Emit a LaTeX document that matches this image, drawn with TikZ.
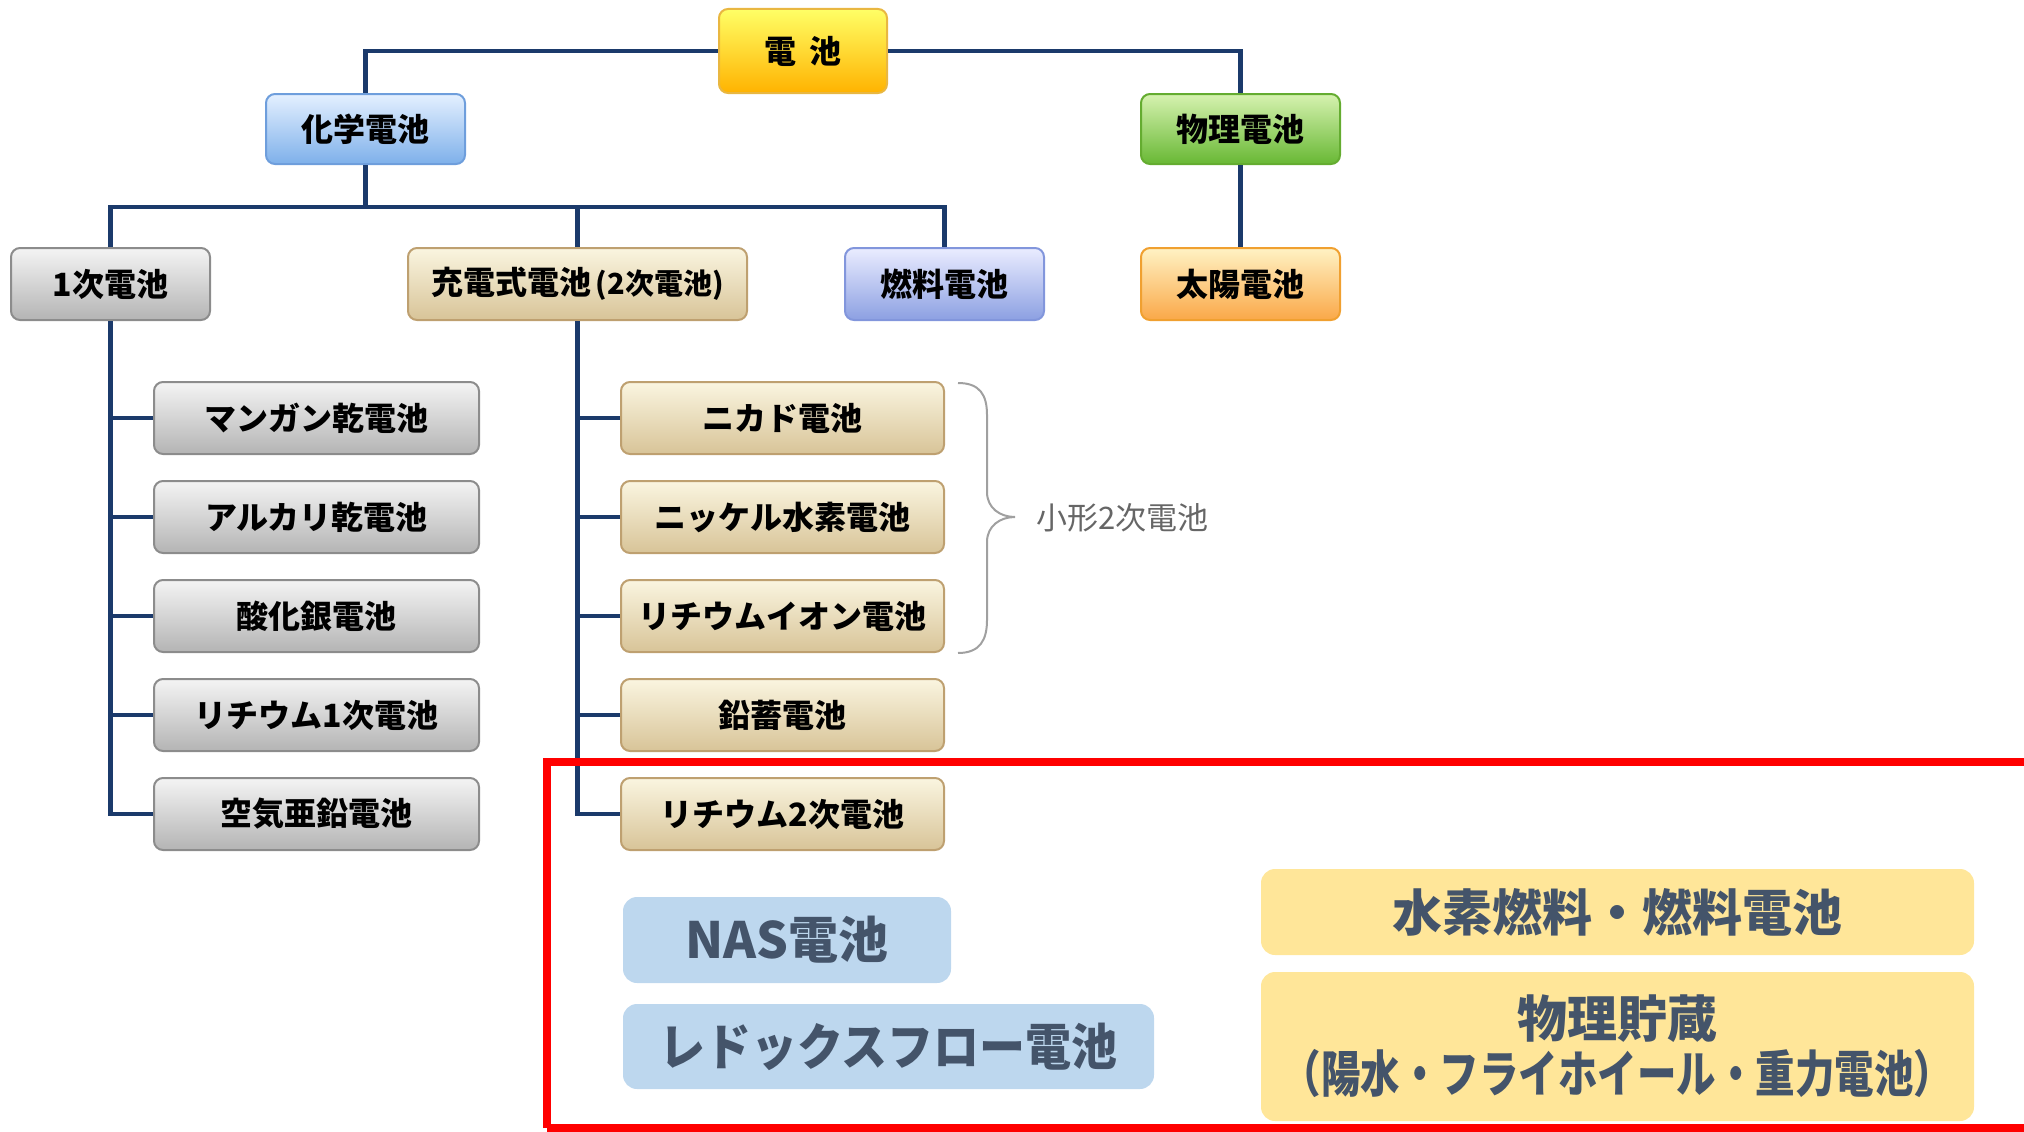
\documentclass[tikz,border=0pt]{standalone}
\usepackage{fontspec}
\newfontfamily\jp{Noto Sans CJK JP}
\definecolor{navy}{HTML}{1B3A6B}
\definecolor{slate}{HTML}{44546A}
\definecolor{paleblue}{HTML}{BDD7EE}
\definecolor{paleyellow}{HTML}{FFE699}
\definecolor{bracegray}{HTML}{A0A0A0}
\definecolor{labelgray}{HTML}{666666}
\tikzset{
  box/.style={draw, rounded corners=9pt, line width=2pt, inner sep=0pt,
    font=\jp\bfseries\fontsize{32}{36}\selectfont, text=black},
  yellowbox/.style={box, draw=yellow!40!orange!90!black!80, top color=yellow!60!white, middle color=yellow!70!orange!70, bottom color=orange!60!yellow},
  bluebox/.style={box, draw={rgb,255:red,110;green,158;blue,220}, top color={rgb,255:red,228;green,240;blue,255}, middle color={rgb,255:red,180;green,210;blue,245}, bottom color={rgb,255:red,126;green,176;blue,234}},
  lavbox/.style={box, draw={rgb,255:red,130;green,150;blue,220}, top color={rgb,255:red,234;green,236;blue,255}, middle color={rgb,255:red,196;green,204;blue,246}, bottom color={rgb,255:red,140;green,160;blue,226}},
  greenbox/.style={box, draw={rgb,255:red,100;green,172;blue,48}, top color={rgb,255:red,214;green,242;blue,176}, middle color={rgb,255:red,150;green,214;blue,96}, bottom color={rgb,255:red,104;green,184;blue,52}},
  orangebox/.style={box, draw={rgb,255:red,240;green,160;blue,48}, top color={rgb,255:red,255;green,242;blue,196}, middle color={rgb,255:red,255;green,212;blue,130}, bottom color={rgb,255:red,250;green,168;blue,72}},
  graybox/.style={box, draw={rgb,255:red,140;green,140;blue,140}, top color={rgb,255:red,244;green,244;blue,244}, middle color={rgb,255:red,218;green,218;blue,218}, bottom color={rgb,255:red,180;green,180;blue,180}},
  beigebox/.style={box, draw={rgb,255:red,190;green,160;blue,112}, top color={rgb,255:red,250;green,245;blue,224}, middle color={rgb,255:red,238;green,228;blue,196}, bottom color={rgb,255:red,216;green,196;blue,152}},
  topw/.style={minimum width=199pt, minimum height=70pt},
  midw/.style={minimum height=72pt},
  leafL/.style={graybox, minimum width=325pt, minimum height=72pt},
  leafR/.style={beigebox, minimum width=323pt, minimum height=72pt},
  flatbox/.style={rounded corners=14pt, inner sep=0pt,
    font=\jp\bfseries\fontsize{50}{55}\selectfont, text=slate, align=center},
  link/.style={draw=navy, line width=4.5pt},
}
\begin{document}
\begin{tikzpicture}[x=1pt,y=-1pt]
\useasboundingbox (0,0) rectangle (2024,1132);
% top level
\node[yellowbox, minimum width=168pt, minimum height=84pt] (den) at (803,51) {電\hspace{14pt}池};
\node[bluebox, topw] (kagaku) at (365.5,129) {化学電池};
\node[greenbox, topw] (butsuri) at (1240.5,129) {物理電池};
\node[graybox, midw, minimum width=199pt] (ichiji) at (110.5,284) {1次電池};
\node[beigebox, midw, minimum width=339pt] (juden) at (577.5,284) {充電式電池{\fontsize{29}{32}\selectfont\,(2次電池)}};
\node[lavbox, midw, minimum width=199pt] (nenryo) at (944.5,284) {燃料電池};
\node[orangebox, midw, minimum width=199pt] (taiyo) at (1240.5,284) {太陽電池};
% left leaves
\node[leafL] (L1) at (316.5,418) {マンガン乾電池};
\node[leafL] (L2) at (316.5,517) {アルカリ乾電池};
\node[leafL] (L3) at (316.5,616) {酸化銀電池};
\node[leafL] (L4) at (316.5,715) {リチウム1次電池};
\node[leafL] (L5) at (316.5,814) {空気亜鉛電池};
% right leaves
\node[leafR] (R1) at (782.5,418) {ニカド電池};
\node[leafR] (R2) at (782.5,517) {ニッケル水素電池};
\node[leafR] (R3) at (782.5,616) {リチウムイオン電池};
\node[leafR] (R4) at (782.5,715) {鉛蓄電池};
\node[leafR] (R5) at (782.5,814) {リチウム2次電池};
% connectors
\coordinate (bus) at (365.5,207);
\draw[link] (den.west) -| (kagaku.north);
\draw[link] (den.east) -| (butsuri.north);
\draw[link] (kagaku.south) -- (bus);
\draw[link] (ichiji.north) |- (bus) -| (nenryo.north);
\draw[link] (juden.north) -- (juden.north |- bus);
\draw[link] (butsuri.south) -- (taiyo.north);
\draw[link] (ichiji.south) |- (L5.west);
\foreach \n in {L1,L2,L3,L4} \draw[link] (\n.west) -- (\n.west -| ichiji.south);
\draw[link] (juden.south) |- (R5.west);
\foreach \n in {R1,R2,R3,R4} \draw[link] (\n.west) -- (\n.west -| juden.south);
% brace and label
\draw[bracegray, line width=2pt]
  (958,383) .. controls (980,383) and (987,395) .. (987,415) -- (987,492)
  .. controls (987,508) and (1000,517) .. (1015,517)
  .. controls (1000,517) and (987,526) .. (987,542) -- (987,620)
  .. controls (987,640) and (980,653) .. (958,653);
\node[font=\jp\fontsize{31}{34}\selectfont, text=labelgray, anchor=west, inner sep=0pt] (small) at (1036,518) {小形2次電池};
% red frame
\draw[red, line width=8pt] (547,1128) -- (547,762) -- (2040,762);
\draw[red, line width=8pt] (547,1128) -- (2040,1128);
% flat boxes
\node[flatbox, fill=paleblue, minimum width=328pt, minimum height=86pt] (nas) at (787,940) {NAS電池};
\node[flatbox, fill=paleblue, minimum width=531pt, minimum height=85pt] (redox) at (888.5,1046.5) {\scalebox{0.92}[1]{レドックスフロー電池}};
\node[flatbox, fill=paleyellow, minimum width=713pt, minimum height=86pt] (suiso) at (1617.5,912) {水素燃料・燃料電池};
\node[flatbox, fill=paleyellow, text width=713pt, minimum height=149pt] (chozo) at (1617.5,1046.5) {物理貯蔵\\\scalebox{0.79}[1]{（陽水・フライホイール・重力電池）}};
\end{tikzpicture}
\end{document}
